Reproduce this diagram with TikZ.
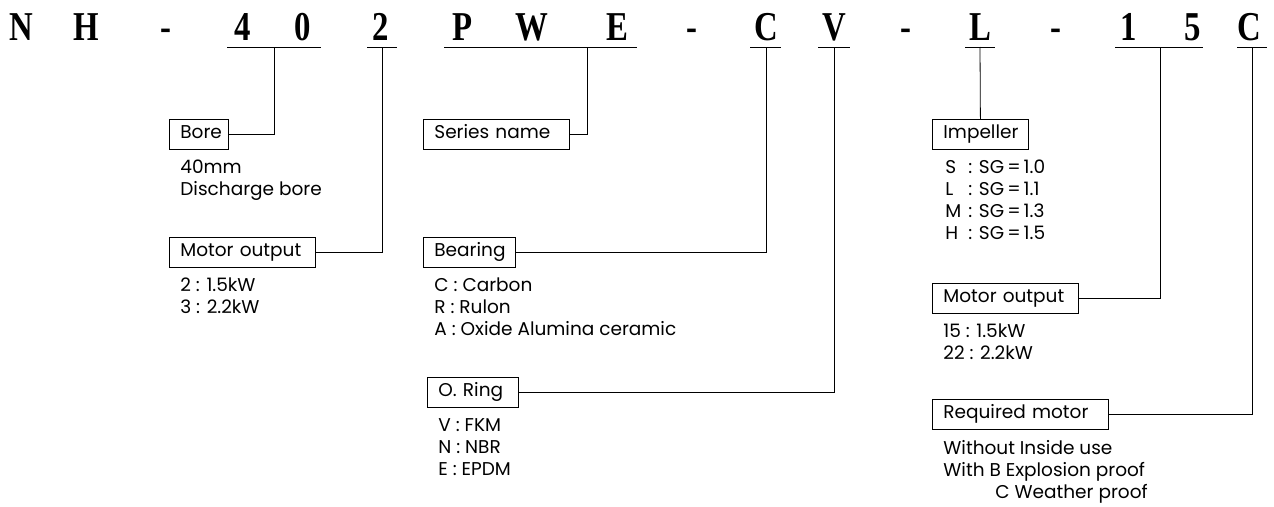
\documentclass[tikz,border=0pt]{standalone}
\usepackage{fontspec}
\usepackage{graphicx}
\usetikzlibrary{positioning}
\setmainfont{Poppins}
\newfontfamily\codefont{Liberation Serif}
\newcommand{\narrow}[1]{\scalebox{0.8}[1]{#1}}

\begin{document}
\begin{tikzpicture}[x=1pt,y=-1pt,line width=0.8pt,
    code/.style={font=\codefont\bfseries\fontsize{41}{41}\selectfont,anchor=base,inner sep=0pt},
    keybox/.style={draw,anchor=north west,minimum height=30pt,inner xsep=11pt,inner ysep=0pt,text height=13.5pt,text depth=4.5pt,align=left,font=\fontsize{18.5}{20}\selectfont},
    keylist/.style={inner sep=0pt,align=left,font=\fontsize{18.5}{22}\selectfont}]
  \useasboundingbox (0,0) rectangle (1274,506);

  \node[code] (cN) at (21,40) {\narrow{N}};
  \node[code] (cH) at (86,40) {\narrow{H}};
  \node[code] (dashA) at (166,40) {\narrow{-}};
  \node[code] (c4) at (243,40) {\narrow{4}};
  \node[code] (c0) at (303,40) {\narrow{0}};
  \node[code] (c2) at (381,40) {\narrow{2}};
  \node[code] (cP) at (463,40) {\narrow{P}};
  \node[code] (cW) at (532,40) {\narrow{W}};
  \node[code] (cE) at (617,40) {\narrow{E}};
  \node[code] (dashB) at (692,40) {\narrow{-}};
  \node[code] (cC) at (766,40) {\narrow{C}};
  \node[code] (cV) at (834,40) {\narrow{V}};
  \node[code] (dashC) at (906,40) {\narrow{-}};
  \node[code] (cL) at (980,40) {\narrow{L}};
  \node[code] (dashD) at (1056,40) {\narrow{-}};
  \node[code] (c1) at (1129,40) {\narrow{1}};
  \node[code] (c5) at (1193,40) {\narrow{5}};
  \node[code] (cCC) at (1249,40) {\narrow{C}};

  \draw (227,47) -- (321,47);
  \draw (367,47) -- (397,47);
  \draw (444,47) -- (637,47);
  \draw (750,47) -- (781,47);
  \draw (818,47) -- (850,47);
  \draw (965,47) -- (995,47);
  \draw (1115,47) -- (1203,47);
  \draw (1237,47) -- (1267,47);

  \coordinate (tBore) at (274,47);
  \coordinate (tMotA) at (382,47);
  \coordinate (tSeries) at (587,47);
  \coordinate (tBear) at (766,47);
  \coordinate (tRing) at (834,47);
  \coordinate (tImp) at (980,47);
  \coordinate (tMotB) at (1160,47);
  \coordinate (tReq) at (1252,47);

  \node[keybox,text width=37pt] (bore) at (169,119) {Bore};
  \node[keybox,text width=124pt] (motA) at (169,237) {Motor~output};
  \node[keybox,text width=124pt] (series) at (423,119) {Series~name};
  \node[keybox,text width=70pt] (bear) at (423,237) {Bearing};
  \node[keybox,text width=69pt] (ring) at (427,377) {O.~Ring};
  \node[keybox,text width=74pt] (imp) at (932,119) {Impeller};
  \node[keybox,text width=124pt] (motB) at (932,283) {Motor~output};
  \node[keybox,text width=154pt] (req) at (932,399) {Required~motor};

  \node[keylist,below right=10pt and 11pt of bore.south west,anchor=north west] (boreList) {40mm\\Discharge bore};
  \node[keylist,below right=10pt and 11pt of motA.south west,anchor=north west] (motAList) {2 : 1.5kW\\3 : 2.2kW};
  \node[keylist,below right=10pt and 11pt of bear.south west,anchor=north west] (bearList) {C : Carbon\\R : Rulon\\A : Oxide Alumina ceramic};
  \node[keylist,below right=10pt and 11pt of ring.south west,anchor=north west] (ringList) {V : FKM\\N : NBR\\E : EPDM};
  \node[keylist,below right=10pt and 13pt of imp.south west,anchor=north west] (impList) {\makebox[23pt][l]{S}: SG\,=\,1.0\\\makebox[23pt][l]{L}: SG\,=\,1.1\\\makebox[23pt][l]{M}: SG\,=\,1.3\\\makebox[23pt][l]{H}: SG\,=\,1.5};
  \node[keylist,below right=10pt and 11pt of motB.south west,anchor=north west] (motBList) {15 : 1.5kW\\22 : 2.2kW};
  \node[keylist,below right=10pt and 11pt of req.south west,anchor=north west] (reqList) {Without Inside use\\With B Explosion proof\\\hspace*{52pt}C Weather proof};

  \draw (tBore) |- (bore.east);
  \draw (tMotA) |- (motA.east);
  \draw (tSeries) |- (series.east);
  \draw (tBear) |- (bear.east);
  \draw (tRing) |- (ring.east);
  \draw (tImp) -- (imp.north);
  \draw (tMotB) |- (motB.east);
  \draw (tReq) |- (req.east);
\end{tikzpicture}
\end{document}
